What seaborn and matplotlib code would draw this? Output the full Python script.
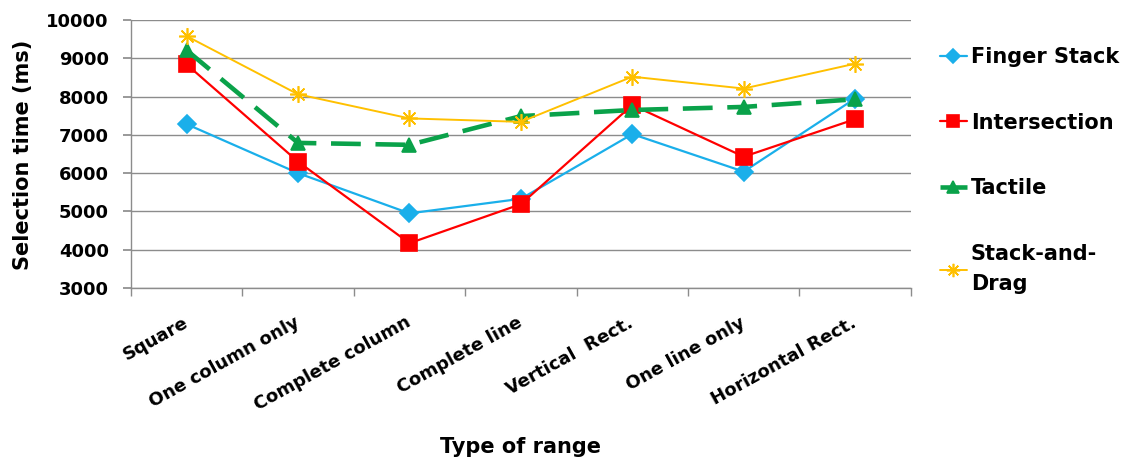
import numpy as np
import pandas as pd
import matplotlib
matplotlib.use("Agg")
import matplotlib.pyplot as plt
import seaborn as sns

categories = ["Square", "One column only", "Complete column", "Complete line",
              "Vertical  Rect.", "One line only", "Horizontal Rect."]
finger_stack = [7280, 6000, 4950, 5330, 7020, 6040, 7950]
intersection = [8840, 6300, 4170, 5190, 7780, 6430, 7410]
tactile = [9210, 6790, 6740, 7490, 7650, 7730, 7930]
stack_and_drag = [9580, 8060, 7430, 7340, 8520, 8210, 8860]
series_names = ["Finger Stack", "Intersection", "Tactile", "Stack-and-Drag"]
legend_labels = ["Finger Stack", "Intersection", "Tactile", "Stack-and-\nDrag"]
yticks = [3000, 4000, 5000, 6000, 7000, 8000, 9000, 10000]

colors = {"Finger Stack": "#1AAFEA", "Intersection": "#FF0000",
          "Tactile": "#0AA24A", "Stack-and-Drag": "#FFC000"}
markers = {"Finger Stack": "D", "Intersection": "s", "Tactile": "^",
           "Stack-and-Drag": (8, 2, 0)}

rows = []
for name, vals in zip(series_names, [finger_stack, intersection, tactile, stack_and_drag]):
    for i, v in enumerate(vals):
        rows.append({"idx": i, "value": v, "series": name})
df = pd.DataFrame(rows)

sns.set_theme(style="white")
plt.rcParams['font.family'] = ['DejaVu Sans']
plt.rcParams['text.color'] = 'black'
plt.rcParams['xtick.labelcolor'] = 'black'
plt.rcParams['ytick.labelcolor'] = 'black'
plt.rcParams['axes.labelcolor'] = 'black'

fig = plt.figure(figsize=(11.27, 4.66), dpi=100)
ax = fig.add_axes([0.1162, 0.382, 0.692, 0.575])

msizes = {"Finger Stack": 9, "Intersection": 11, "Tactile": 10, "Stack-and-Drag": 12}
lws = {"Finger Stack": 1.6, "Intersection": 1.6, "Tactile": 3.3, "Stack-and-Drag": 1.4}
for name in series_names:
    sub = df[df.series == name]
    sns.lineplot(data=sub, x="idx", y="value", ax=ax, color=colors[name],
                 marker=markers[name], markersize=msizes[name],
                 markeredgecolor=colors[name], markeredgewidth=1.2,
                 linewidth=lws[name], label=name)

for line, name in zip(ax.get_lines(), series_names):
    if name == "Tactile":
        line.set_dashes([6.5, 3.2])
        line.set_dash_capstyle("butt")

ax.set_xlim(-0.5, 6.5)
ax.set_ylim(3000, 10000)
ax.set_yticks(yticks)
ax.set_yticklabels([str(t) for t in yticks], fontsize=13, fontweight="bold")
ax.yaxis.grid(True, color="#8C8C8C", linewidth=1.0)
ax.xaxis.grid(False)

ax.set_xticks(range(len(categories)))
ax.set_xticklabels(categories, rotation=29, ha="right", va="center",
                   rotation_mode="anchor", fontsize=13, fontweight="bold")
ax.tick_params(axis="x", which="major", length=0, pad=24)
ax.set_xticks(np.arange(-0.5, 7.0, 1.0), minor=True)
ax.tick_params(axis="x", which="minor", length=6, color="#8C8C8C", direction="out", bottom=True)
ax.tick_params(axis="y", which="major", length=6, color="#8C8C8C", direction="out", left=True, pad=10)

for s in ["top", "right"]:
    ax.spines[s].set_visible(False)
for s in ["left", "bottom"]:
    ax.spines[s].set_color("#8C8C8C")
    ax.spines[s].set_linewidth(1.0)

ax.set_xlabel("Type of range", fontsize=15, fontweight="bold")
ax.xaxis.set_label_coords(0.499, -0.556)
ax.set_ylabel("Selection time (ms)", fontsize=15, fontweight="bold")
ax.yaxis.set_label_coords(-0.126, 0.496)

handles, _ = ax.get_legend_handles_labels()
leg = ax.legend(handles, legend_labels, loc="upper left", bbox_to_anchor=(1.037, 0.90),
                frameon=False, prop={"size": 15, "weight": "bold"},
                handlelength=1.3, handletextpad=0.2, labelspacing=2.2,
                borderaxespad=0, borderpad=0, markerscale=0.8)
for t in leg.get_texts():
    t.set_linespacing(1.6)

fig.savefig("out.png", dpi=100)
